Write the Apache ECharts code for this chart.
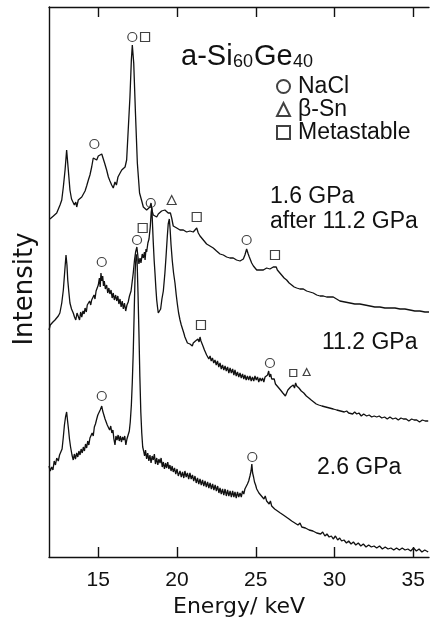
<!DOCTYPE html>
<html>
<head>
<meta charset="utf-8">
<script src="https://cdn.jsdelivr.net/npm/echarts@6/dist/echarts.min.js"></script>
<style>
  html, body { margin: 0; background: #fff; }
  #chart { width: 430px; height: 625px; }
</style>
</head>
<body>
<div id="chart"></div>
<script>
// energy (keV) vs intensity (arbitrary units, curves stacked with offsets)
let spec16after112 = [
  [11.93, 338], [12.04, 337], [12.15, 341], [12.25, 342], [12.36, 344], [12.46, 345], [12.57, 352],
  [12.68, 357], [12.78, 370], [12.89, 387], [12.99, 407], [13.08, 390], [13.20, 367], [13.30, 358],
  [13.39, 357], [13.48, 352], [13.57, 355], [13.63, 350], [13.73, 357], [13.84, 356], [13.95, 360],
  [14.05, 362], [14.16, 366], [14.26, 371], [14.37, 377], [14.47, 382], [14.58, 390], [14.68, 399],
  [14.79, 400], [14.90, 397], [15.00, 401], [15.11, 399], [15.22, 403], [15.30, 399], [15.40, 394],
  [15.53, 387], [15.64, 380], [15.74, 376], [15.85, 372], [15.95, 369], [16.06, 375], [16.15, 372],
  [16.25, 380], [16.35, 383], [16.49, 387], [16.60, 385], [16.70, 390], [16.80, 397], [16.90, 427],
  [17.01, 460], [17.10, 497], [17.16, 512], [17.25, 494], [17.36, 444], [17.48, 394], [17.62, 364],
  [17.76, 356], [17.86, 350], [17.97, 349], [18.07, 347], [18.17, 345], [18.28, 350], [18.35, 354],
  [18.42, 346], [18.49, 342], [18.60, 344], [18.71, 340], [18.81, 343], [18.92, 343], [19.02, 346],
  [19.13, 345], [19.23, 347], [19.34, 346], [19.44, 344], [19.51, 343], [19.58, 344], [19.66, 339],
  [19.76, 331], [19.87, 330], [19.98, 329], [20.08, 327], [20.19, 327], [20.30, 328], [20.40, 327],
  [20.50, 326], [20.61, 325], [20.72, 326], [20.82, 326], [20.93, 325], [21.03, 325], [21.14, 327],
  [21.25, 329], [21.35, 324], [21.46, 321], [21.57, 319], [21.67, 317], [21.78, 315], [21.88, 313],
  [21.98, 312], [22.09, 311], [22.20, 309], [22.30, 309], [22.41, 307], [22.51, 306], [22.62, 305],
  [22.73, 303], [22.83, 303], [22.94, 302], [23.04, 301], [23.15, 300], [23.25, 300], [23.36, 299],
  [23.46, 299], [23.57, 299], [23.68, 298], [23.78, 297], [23.89, 297], [24.00, 296], [24.10, 296],
  [24.21, 298], [24.31, 302], [24.42, 308], [24.52, 303], [24.59, 300], [24.74, 294], [24.85, 291],
  [24.95, 289], [25.06, 287], [25.17, 287], [25.27, 287], [25.38, 288], [25.48, 287], [25.59, 288],
  [25.69, 289], [25.80, 288], [25.90, 288], [26.01, 289], [26.11, 290], [26.22, 291], [26.30, 290],
  [26.37, 287], [26.48, 285], [26.64, 282], [26.80, 279], [26.96, 277], [27.12, 274], [27.28, 272],
  [27.44, 270], [27.60, 269], [27.80, 268], [28.02, 268], [28.23, 266], [28.44, 265], [28.65, 264],
  [28.87, 262], [29.08, 261], [29.29, 261], [29.50, 260], [29.71, 260], [29.92, 260], [30.13, 258],
  [30.34, 256], [30.45, 255], [30.66, 255], [30.98, 254], [31.29, 253], [31.61, 253], [31.93, 252],
  [32.25, 251], [32.56, 250], [32.88, 250], [33.20, 249], [33.52, 249], [33.84, 249], [34.16, 248],
  [34.47, 248], [34.79, 247], [35.10, 246], [35.42, 246], [35.74, 245], [36.00, 245]
]

let spec112 = [
  [11.87, 227], [11.95, 232], [12.04, 230], [12.12, 235], [12.20, 233], [12.25, 237], [12.35, 236],
  [12.46, 241], [12.56, 244], [12.68, 254], [12.78, 267], [12.89, 290], [12.95, 302], [13.01, 292],
  [13.06, 277], [13.13, 265], [13.20, 254], [13.30, 248], [13.41, 244], [13.49, 240], [13.57, 237],
  [13.65, 244], [13.73, 242], [13.81, 237], [13.88, 245], [13.95, 240], [14.03, 246], [14.10, 243],
  [14.16, 249], [14.24, 245], [14.30, 252], [14.37, 250], [14.45, 256], [14.52, 252], [14.58, 257],
  [14.66, 255], [14.73, 262], [14.79, 258], [14.86, 266], [14.93, 268], [15.00, 272], [15.07, 279],
  [15.12, 270], [15.17, 284], [15.22, 276], [15.28, 281], [15.33, 271], [15.38, 276], [15.45, 268],
  [15.53, 272], [15.60, 264], [15.67, 269], [15.74, 263], [15.81, 267], [15.88, 259], [15.95, 264],
  [16.02, 257], [16.10, 262], [16.17, 256], [16.24, 261], [16.31, 253], [16.38, 258], [16.45, 250],
  [16.52, 256], [16.59, 248], [16.66, 254], [16.74, 246], [16.82, 252], [16.90, 255], [16.98, 261],
  [17.08, 266], [17.15, 275], [17.22, 284], [17.30, 297], [17.37, 305], [17.45, 310], [17.52, 300],
  [17.58, 293], [17.65, 299], [17.71, 294], [17.79, 303], [17.86, 299], [17.93, 305], [17.97, 297],
  [18.03, 308], [18.07, 305], [18.15, 314], [18.22, 318], [18.30, 330], [18.36, 345], [18.40, 349],
  [18.45, 330], [18.49, 315], [18.55, 296], [18.60, 284], [18.66, 268], [18.71, 257], [18.76, 250],
  [18.81, 244], [18.88, 246], [18.96, 248], [19.04, 258], [19.13, 266], [19.23, 284], [19.30, 300],
  [19.38, 320], [19.44, 333], [19.51, 338], [19.56, 328], [19.62, 312], [19.70, 296], [19.78, 284],
  [19.87, 274], [19.95, 262], [20.02, 253], [20.10, 244], [20.19, 237], [20.27, 232], [20.35, 228],
  [20.43, 224], [20.50, 220], [20.58, 218], [20.66, 214], [20.74, 216], [20.82, 213], [20.90, 215],
  [20.97, 211], [21.03, 214], [21.10, 212], [21.17, 216], [21.25, 214], [21.33, 218], [21.40, 215],
  [21.46, 220], [21.52, 216], [21.60, 214], [21.67, 210], [21.74, 207], [21.81, 205], [21.88, 202],
  [21.95, 204], [22.02, 198], [22.10, 201], [22.17, 196], [22.25, 199], [22.33, 194], [22.41, 197],
  [22.49, 192], [22.57, 196], [22.65, 190], [22.73, 194], [22.81, 188], [22.89, 192], [22.97, 187],
  [23.05, 191], [23.13, 186], [23.21, 190], [23.29, 184], [23.37, 189], [23.45, 184], [23.53, 188],
  [23.61, 182], [23.68, 187], [23.76, 181], [23.84, 185], [23.92, 180], [24.00, 184], [24.08, 179],
  [24.16, 183], [24.24, 178], [24.31, 182], [24.39, 177], [24.47, 181], [24.55, 177], [24.63, 181],
  [24.71, 176], [24.79, 180], [24.87, 176], [24.95, 181], [25.03, 177], [25.11, 180], [25.19, 175],
  [25.27, 179], [25.35, 176], [25.43, 179], [25.51, 175], [25.59, 180], [25.67, 178], [25.75, 182],
  [25.82, 186], [25.88, 180], [25.95, 183], [26.01, 178], [26.09, 176], [26.17, 178], [26.25, 173],
  [26.33, 175], [26.41, 170], [26.49, 172], [26.57, 167], [26.64, 169], [26.72, 164], [26.80, 166],
  [26.88, 161], [26.96, 164], [27.04, 167], [27.13, 165], [27.21, 170], [27.29, 168], [27.38, 172],
  [27.46, 169], [27.53, 174], [27.60, 171], [27.67, 173], [27.74, 169], [27.81, 170], [27.89, 166],
  [27.97, 168], [28.05, 164], [28.13, 165], [28.21, 161], [28.29, 163], [28.37, 159], [28.44, 161],
  [28.52, 157], [28.60, 159], [28.68, 155], [28.76, 157], [28.84, 153], [28.92, 155], [29.00, 152],
  [29.08, 154], [29.20, 151], [29.32, 153], [29.44, 150], [29.56, 152], [29.68, 149], [29.80, 151],
  [29.92, 148], [30.04, 150], [30.14, 147], [30.26, 149], [30.38, 146], [30.50, 148], [30.62, 145],
  [30.77, 146], [30.90, 144], [31.02, 146], [31.15, 143], [31.28, 145], [31.41, 143], [31.55, 144],
  [31.70, 141], [31.85, 143], [32.04, 141], [32.20, 142], [32.36, 140], [32.52, 141], [32.68, 140],
  [32.84, 141], [33.00, 139], [33.18, 140], [33.35, 138], [33.52, 140], [33.70, 138], [33.88, 139],
  [34.05, 137], [34.22, 139], [34.37, 138], [34.55, 138], [34.72, 136], [34.90, 138], [35.05, 137],
  [35.22, 137], [35.40, 135], [35.58, 137], [35.76, 136], [35.95, 136]
]

let spec26 = [
  [11.87, 91], [11.95, 86], [12.04, 90], [12.12, 87], [12.20, 96], [12.28, 92], [12.36, 99],
  [12.46, 96], [12.54, 102], [12.62, 100], [12.70, 108], [12.78, 120], [12.85, 132], [12.92, 140],
  [12.99, 145], [13.05, 136], [13.10, 129], [13.17, 118], [13.24, 110], [13.33, 102], [13.41, 97],
  [13.48, 103], [13.55, 98], [13.63, 104], [13.70, 100], [13.77, 106], [13.84, 102], [13.91, 108],
  [13.98, 104], [14.05, 110], [14.12, 106], [14.19, 113], [14.26, 109], [14.33, 116], [14.40, 112],
  [14.47, 119], [14.54, 117], [14.61, 124], [14.68, 121], [14.75, 130], [14.82, 133], [14.90, 138],
  [14.97, 142], [15.04, 140], [15.12, 147], [15.18, 145], [15.22, 151], [15.28, 146], [15.36, 145],
  [15.43, 138], [15.50, 140], [15.57, 132], [15.64, 134], [15.72, 127], [15.79, 131], [15.86, 124],
  [15.93, 127], [15.99, 118], [16.06, 112], [16.12, 121], [16.19, 117], [16.26, 122], [16.33, 116],
  [16.40, 121], [16.47, 115], [16.54, 120], [16.61, 117], [16.68, 121], [16.75, 112], [16.82, 118],
  [16.90, 116], [16.97, 126], [17.03, 135], [17.10, 152], [17.16, 175], [17.22, 205], [17.28, 245],
  [17.34, 285], [17.40, 303], [17.46, 298], [17.52, 265], [17.58, 225], [17.64, 180], [17.70, 145],
  [17.76, 124], [17.82, 110], [17.88, 106], [17.94, 101], [18.00, 107], [18.07, 98], [18.14, 104],
  [18.21, 96], [18.28, 102], [18.35, 94], [18.42, 101], [18.49, 97], [18.56, 103], [18.63, 93],
  [18.71, 99], [18.78, 92], [18.85, 98], [18.92, 94], [18.99, 99], [19.06, 90], [19.13, 95],
  [19.20, 88], [19.27, 94], [19.34, 89], [19.41, 95], [19.48, 88], [19.55, 92], [19.62, 86],
  [19.69, 91], [19.76, 85], [19.84, 89], [19.92, 83], [20.00, 88], [20.08, 81], [20.19, 86],
  [20.27, 80], [20.35, 85], [20.43, 79], [20.50, 86], [20.58, 80], [20.66, 84], [20.74, 78],
  [20.82, 84], [20.90, 78], [20.98, 82], [21.06, 76], [21.14, 81], [21.22, 74], [21.30, 79],
  [21.38, 73], [21.46, 78], [21.54, 72], [21.62, 77], [21.70, 71], [21.78, 76], [21.86, 70],
  [21.94, 75], [22.02, 69], [22.10, 74], [22.18, 68], [22.26, 73], [22.34, 67], [22.42, 72],
  [22.50, 66], [22.58, 71], [22.66, 64], [22.73, 69], [22.81, 63], [22.89, 68], [22.97, 62],
  [23.05, 68], [23.13, 61], [23.21, 67], [23.29, 61], [23.37, 66], [23.45, 60], [23.53, 66],
  [23.61, 60], [23.68, 65], [23.76, 59], [23.84, 65], [23.92, 60], [24.00, 64], [24.08, 60],
  [24.16, 66], [24.24, 63], [24.31, 68], [24.39, 66], [24.47, 73], [24.55, 76], [24.63, 81],
  [24.70, 86], [24.75, 93], [24.80, 84], [24.86, 80], [24.92, 75], [24.99, 72], [25.06, 68],
  [25.13, 70], [25.20, 64], [25.28, 66], [25.36, 61], [25.44, 63], [25.52, 58], [25.60, 61],
  [25.69, 56], [25.77, 58], [25.85, 53], [25.93, 56], [26.01, 51], [26.11, 53], [26.20, 48],
  [26.29, 50], [26.38, 46], [26.47, 48], [26.56, 44], [26.66, 46], [26.75, 42], [26.84, 44],
  [26.93, 40], [27.02, 42], [27.11, 38], [27.20, 40], [27.28, 36], [27.38, 38], [27.48, 34],
  [27.58, 36], [27.68, 32], [27.81, 34], [27.92, 30], [28.03, 32], [28.15, 29], [28.27, 31],
  [28.39, 27], [28.51, 29], [28.63, 26], [28.75, 27], [28.87, 24], [28.99, 26], [29.12, 23],
  [29.25, 25], [29.39, 21], [29.52, 23], [29.66, 20], [29.80, 21], [29.92, 18], [30.06, 21],
  [30.20, 17], [30.33, 19], [30.45, 16], [30.60, 17], [30.76, 14], [30.90, 16], [31.05, 13],
  [31.20, 15], [31.35, 12], [31.51, 14], [31.67, 11], [31.83, 13], [32.00, 10], [32.17, 12],
  [32.34, 10], [32.51, 11], [32.68, 9], [32.86, 11], [33.04, 8], [33.22, 10], [33.40, 8],
  [33.58, 9], [33.76, 7], [33.94, 9], [34.12, 7], [34.30, 9], [34.48, 7], [34.66, 8],
  [34.84, 6], [35.02, 9], [35.20, 6], [35.37, 8], [35.55, 5], [35.73, 7], [35.95, 5]
]

// peak assignments (marker placed just above the peak)
let naclMarks = [[17.16, 520], [14.75, 413], [18.33, 354], [24.42, 317], [15.22, 295],
  [17.46, 317], [25.90, 194], [15.22, 161], [24.78, 100]]
let betaSnMarks = [[19.66, 357], [28.23, 185, 7]]
let metastableMarks = [[17.97, 520], [21.25, 340], [26.22, 302], [17.82, 329], [21.52, 232], [27.38, 184, 7]]

let energyTicks = [15, 20, 25, 30, 35]
let pressureLabels = ['1.6 GPa', 'after 11.2 GPa', '11.2 GPa', '2.6 GPa']

let ink = '#111'
let font = '"Liberation Sans", Arial, sans-serif'

function toMarks(list) {
  return list.map(m => m[2] ? { value: [m[0], m[1]], symbolSize: m[2] } : [m[0], m[1]])
}

function specSeries(data) {
  return {
    type: 'line',
    data: data,
    symbol: 'none',
    lineStyle: { color: ink, width: 1.3 },
    silent: true,
    z: 2
  }
}

function markSeries(name, symbol, list) {
  return {
    name: name,
    type: 'scatter',
    symbol: symbol,
    symbolSize: 9,
    data: toMarks(list),
    itemStyle: { color: 'rgba(0,0,0,0)', borderColor: ink, borderWidth: 1.2 },
    silent: true,
    z: 3
  }
}

function txt(x, y, text, size, extra) {
  return Object.assign({
    type: 'text', x: x, y: y,
    style: { text: text, fontSize: size, fontFamily: font, fill: ink, verticalAlign: 'middle' }
  }, extra || {})
}

let chart = echarts.init(document.getElementById('chart'), null, { renderer: 'canvas' })

let tickAxis = {
  type: 'value',
  min: 11.87,
  max: 36,
  axisLine: { show: true, onZero: false, lineStyle: { color: ink, width: 1.4 } },
  axisTick: { show: true, inside: true, length: 10, customValues: energyTicks, lineStyle: { color: ink, width: 1.4 } },
  splitLine: { show: false }
}

chart.setOption({
  animation: false,
  backgroundColor: '#fff',
  grid: { left: 49, right: 1, top: 7, bottom: 68 },
  legend: {
    orient: 'vertical',
    left: 276,
    top: 75,
    padding: 0,
    itemWidth: 13,
    itemHeight: 13,
    itemGap: 0,
    selectedMode: false,
    data: ['NaCl', 'β-Sn', 'Metastable'],
    textStyle: { fontSize: 23, fontFamily: font, color: ink, padding: [0, 0, 0, 3] }
  },
  xAxis: [
    Object.assign({}, tickAxis, {
      position: 'bottom',
      name: 'Energy/ keV',
      nameLocation: 'middle',
      nameGap: 37,
      nameTextStyle: { fontSize: 22, fontFamily: '"DejaVu Sans", sans-serif', color: ink },
      axisLabel: { show: true, customValues: energyTicks, margin: 13, fontSize: 21, fontFamily: font, color: ink }
    }),
    Object.assign({}, tickAxis, { position: 'top', axisLabel: { show: false } })
  ],
  yAxis: {
    type: 'value',
    min: 0,
    max: 550,
    axisLine: { show: true, lineStyle: { color: ink, width: 1.4 } },
    axisTick: { show: false },
    axisLabel: { show: false },
    splitLine: { show: false }
  },
  graphic: [
    txt(181, 57, 'a-Si', 29),
    txt(233, 62, '60', 18),
    txt(254, 57, 'Ge', 29),
    txt(293, 62, '40', 18),
    txt(270, 197, pressureLabels[0], 23),
    txt(270, 222, pressureLabels[1], 23),
    txt(322, 343, pressureLabels[2], 23),
    txt(317, 468, pressureLabels[3], 23),
    {
      type: 'text', x: 25, y: 289, rotation: Math.PI / 2,
      style: { text: 'Intensity', fontSize: 26, fontFamily: '"DejaVu Sans", sans-serif', fill: ink, align: 'center', verticalAlign: 'middle' }
    }
  ],
  series: [
    specSeries(spec16after112),
    specSeries(spec112),
    specSeries(spec26),
    markSeries('NaCl', 'circle', naclMarks),
    markSeries('β-Sn', 'triangle', betaSnMarks),
    markSeries('Metastable', 'rect', metastableMarks)
  ]
})
</script>
</body>
</html>
